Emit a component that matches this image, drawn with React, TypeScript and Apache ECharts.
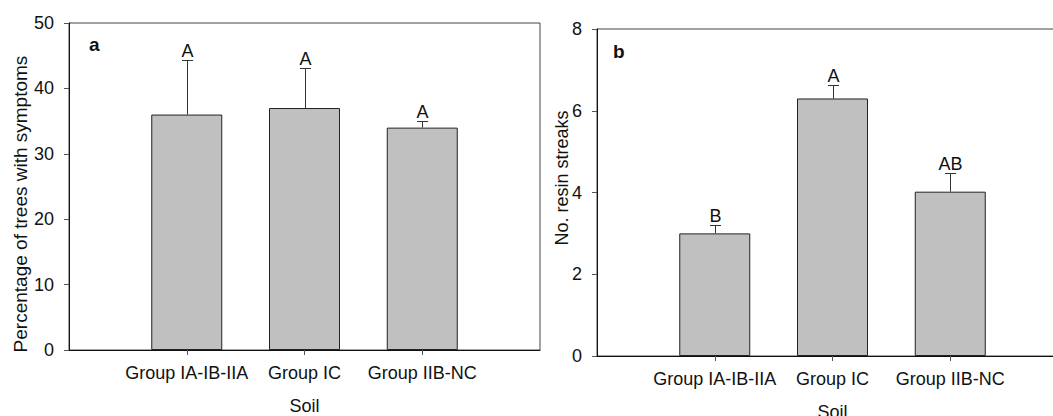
import React, { useEffect, useRef } from "react";
import * as echarts from "echarts";

const categories = ["Group IA-IB-IIA", "Group IC", "Group IIB-NC"];
const pctMean = [36, 37, 34];
const pctErr = [8.3, 6.1, 1.0];
const pctLetters = ["A", "A", "A"];
const resinMean = [3.0, 6.3, 4.02];
const resinErr = [0.2, 0.32, 0.45];
const resinLetters = ["B", "A", "AB"];

const FONT = "Liberation Sans, Arial, sans-serif";

function errSeries(means: number[], errs: number[], letters: string[], idx: number) {
  return {
    type: "custom",
    xAxisIndex: idx,
    yAxisIndex: idx,
    z: 5,
    clip: false,
    data: means.map((m, i) => [i + 1, m, m + errs[i]]),
    renderItem: (params: any, api: any) => {
      const base = api.coord([api.value(0), api.value(1)]);
      const top = api.coord([api.value(0), api.value(2)]);
      const x = Math.round(top[0]) + 0.5;
      const yt = Math.round(top[1]) + 0.5;
      return {
        type: "group",
        children: [
          { type: "line", shape: { x1: x, y1: base[1], x2: x, y2: yt }, style: { stroke: "#333", lineWidth: 1 } },
          { type: "line", shape: { x1: x - 5.5, y1: yt, x2: x + 5.5, y2: yt }, style: { stroke: "#333", lineWidth: 1 } },
          {
            type: "text",
            x: x,
            y: yt - 1,
            style: { text: letters[params.dataIndex], fontSize: 18, fontFamily: FONT, fill: "#111", align: "center", verticalAlign: "bottom" },
          },
        ],
      };
    },
  };
}

function xAxisFor(idx: number) {
  return {
    type: "category",
    gridIndex: idx,
    data: ["", ...categories, ""],
    boundaryGap: false,
    axisLine: { lineStyle: { color: "#111", width: 1 } },
    axisTick: { length: 5, lineStyle: { color: "#555" }, interval: (i: number) => i >= 1 && i <= 3 },
    axisLabel: { interval: 0, margin: 14, fontSize: 18, color: "#111", fontFamily: FONT },
    name: "Soil",
    nameLocation: "middle",
    nameGap: 47,
    nameTextStyle: { fontSize: 18, color: "#111", fontFamily: FONT },
    splitLine: { show: false },
  };
}

function yAxisFor(idx: number, max: number, interval: number) {
  return {
    type: "value",
    gridIndex: idx,
    min: 0,
    max,
    interval,
    axisLine: { show: true, lineStyle: { color: "#111", width: 1 } },
    axisTick: { show: true, length: 5, lineStyle: { color: "#555" } },
    axisLabel: { margin: 15, fontSize: 18, color: "#111", fontFamily: FONT },
    splitLine: { show: false },
  };
}

function barSeries(means: number[], idx: number) {
  return {
    type: "bar",
    xAxisIndex: idx,
    yAxisIndex: idx,
    barWidth: 71,
    data: ["-", ...means, "-"],
    itemStyle: { color: "#c0c0c0", borderColor: "#222", borderWidth: 1 },
  };
}

export default function App() {
  const ref = useRef<HTMLDivElement>(null);
  useEffect(() => {
    if (!ref.current) return;
    const chart = echarts.init(ref.current, undefined, { renderer: "svg" });
    chart.setOption({
      animation: false,
      backgroundColor: "#fff",
      grid: [
        { left: 69, top: 23, width: 471, height: 327, show: true, borderColor: "#444", borderWidth: 1, backgroundColor: "transparent", outerBoundsMode: "none", containLabel: false },
        { left: 597, top: 29, width: 471, height: 327, show: true, borderColor: "#444", borderWidth: 1, backgroundColor: "transparent", outerBoundsMode: "none", containLabel: false },
      ],
      xAxis: [xAxisFor(0), xAxisFor(1)],
      yAxis: [yAxisFor(0, 50, 10), yAxisFor(1, 8, 2)],
      series: [
        barSeries(pctMean, 0),
        errSeries(pctMean, pctErr, pctLetters, 0),
        barSeries(resinMean, 1),
        errSeries(resinMean, resinErr, resinLetters, 1),
      ],
      graphic: [
        { type: "text", left: 89, top: 35, style: { text: "a", fontSize: 19, fontWeight: "bold", fontFamily: FONT, fill: "#111" } },
        { type: "text", left: 613, top: 42, style: { text: "b", fontSize: 19, fontWeight: "bold", fontFamily: FONT, fill: "#111" } },
        {
          type: "text",
          x: 20,
          y: 204,
          rotation: Math.PI / 2,
          style: { text: "Percentage of trees with symptoms", fontSize: 19, fontFamily: FONT, fill: "#111", align: "center", verticalAlign: "middle" },
        },
        {
          type: "text",
          x: 562,
          y: 178,
          rotation: Math.PI / 2,
          style: { text: "No. resin streaks", fontSize: 18, fontFamily: FONT, fill: "#111", align: "center", verticalAlign: "middle" },
        },
      ],
    });
    return () => chart.dispose();
  }, []);
  return <div ref={ref} style={{ position: "absolute", left: 0, top: 0, width: 1053, height: 416 }} />;
}
